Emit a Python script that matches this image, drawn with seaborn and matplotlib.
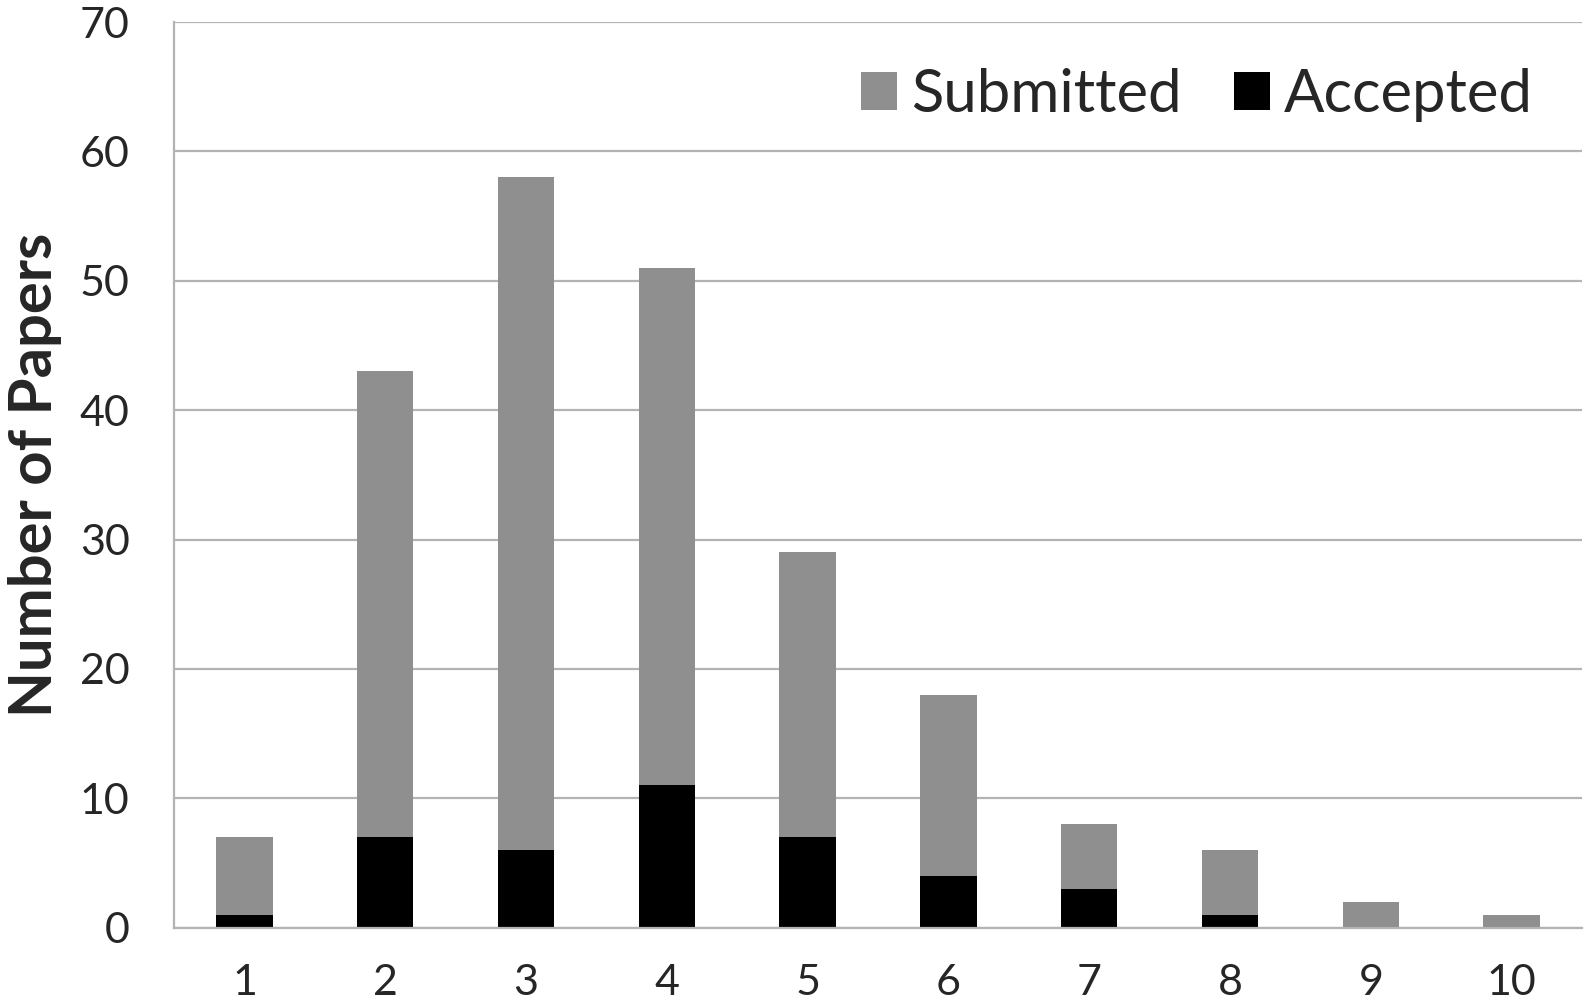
import numpy as np
import pandas as pd
import matplotlib
matplotlib.use('Agg')
import matplotlib.pyplot as plt
import seaborn as sns

categories = ['1', '2', '3', '4', '5', '6', '7', '8', '9', '10']
submitted = [7, 43, 58, 51, 29, 18, 8, 6, 2, 1]
accepted = [1, 7, 6, 11, 7, 4, 3, 1, 0, 0]

df = pd.DataFrame({'group': categories, 'Submitted': submitted, 'Accepted': accepted})

sns.set_style('white')
plt.rcParams['font.family'] = ['Lato', 'DejaVu Sans']

grid_col = '#b3b3b3'

fig = plt.figure(figsize=(15.88, 10.02), dpi=100)
ax = fig.add_axes([0.1096, 0.0742, 0.8866, 0.9038])

sns.barplot(data=df, x='group', y='Submitted', order=categories, color='#8f8f8f',
            width=0.4, saturation=1, linewidth=0, label='Submitted', ax=ax)
sns.barplot(data=df, x='group', y='Accepted', order=categories, color='#000000',
            width=0.4, saturation=1, linewidth=0, label='Accepted', ax=ax)

ax.set_xlim(-0.5, 9.5)
ax.set_ylim(0, 70)
ax.set_yticks(np.arange(0, 71, 10))
ax.yaxis.grid(True, color=grid_col, linewidth=1.6)
ax.set_axisbelow(True)

for s in ['top', 'right']:
    ax.spines[s].set_visible(False)
for s in ['left', 'bottom']:
    ax.spines[s].set_color(grid_col)
    ax.spines[s].set_linewidth(1.6)

ax.set_xticks(np.arange(-0.5, 10, 1), minor=True)
ax.tick_params(axis='x', which='major', length=0, pad=26, labelsize=31)
ax.tick_params(axis='x', which='minor', length=10, width=1.6, color=grid_col)
ax.tick_params(axis='y', length=10, width=1.6, color=grid_col, pad=22, labelsize=31)

ax.set_xlabel('')
ax.set_ylabel('Number of Papers', fontsize=43, fontweight='bold', va='center')
ax.yaxis.set_label_coords(-0.099, 0.5)

ax.legend(loc='upper right', bbox_to_anchor=(1.003, 1.009), ncol=2, frameon=False,
          fontsize=43, handlelength=0.6, handleheight=0.6, handletextpad=0.23,
          columnspacing=0.88)

plt.savefig('out.png', dpi=100)
